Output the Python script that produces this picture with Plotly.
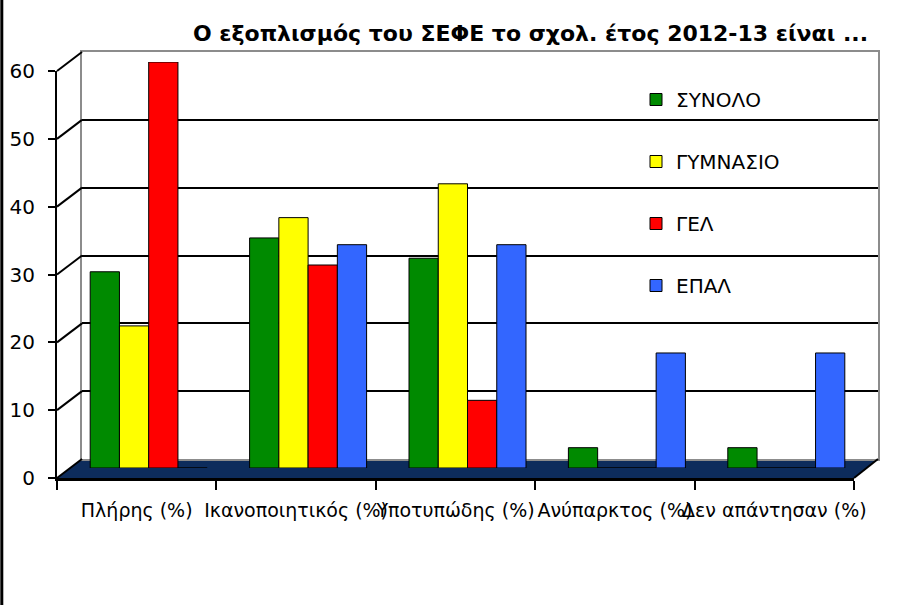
import plotly.graph_objects as go

# data
categories = ["Πλήρης (%)", "Ικανοποιητικός (%)", "Υποτυπώδης (%)", "Ανύπαρκτος (%)", "Δεν απάντησαν (%)"]
series_names = ["ΣΥΝΟΛΟ", "ΓΥΜΝΑΣΙΟ", "ΓΕΛ", "ΕΠΑΛ"]
synolo = [29, 34, 31, 3, 3]
gymnasio = [21, 37, 42, 0, 0]
gel = [60, 30, 10, 0, 0]
epal = [0, 33, 33, 17, 17]
y_ticks = [0, 10, 20, 30, 40, 50, 60]
title_text = "Ο εξοπλισμός του ΣΕΦΕ το σχολ. έτος 2012-13 είναι ..."

colors = ["#008a00", "#ffff00", "#ff0000", "#3366ff"]
FONT = "Comic Sans MS, DejaVu Sans, sans-serif"
W, H = 900, 605


def px(x):
    return x / W


def py(y):
    return 1 - y / H


# front, middle (bars) and back planes of the fake 3d box, in pixels
front = dict(x0=57, x1=854, y0=478, y1=71)
mid = dict(x0=69, x1=866, y0=468, y1=62)
back = dict(x0=82, x1=878, y0=459, y1=52)
ymax = y_ticks[-1]

fig = go.Figure()
# empty traces so that the back wall and the front axes get drawn
for xa, ya in [("x", "y"), ("x2", "y2")]:
    fig.add_trace(go.Scatter(x=[None], y=[None], xaxis=xa, yaxis=ya,
                             showlegend=False, hoverinfo="skip"))
for name, vals, col in zip(series_names, [synolo, gymnasio, gel, epal], colors):
    fig.add_trace(go.Bar(
        x=categories, y=vals, name=name,
        marker=dict(color=col, line=dict(color="black", width=1)),
        xaxis="x3", yaxis="y3", legendgroup=name,
    ))


def y_at(plane, v):
    return plane["y0"] + (plane["y1"] - plane["y0"]) * v / ymax


shapes = []
# floor
shapes.append(dict(
    type="path", xref="paper", yref="paper", layer="below",
    path="M {} {} L {} {} L {} {} L {} {} Z".format(
        px(front["x0"]), py(front["y0"]), px(front["x1"]), py(front["y0"]),
        px(back["x1"]), py(back["y0"]), px(back["x0"]), py(back["y0"])),
    fillcolor="#0d2c5c", line=dict(width=0),
))
# side wall lines
for v in y_ticks:
    shapes.append(dict(
        type="line", xref="paper", yref="paper",
        x0=px(front["x0"]), y0=py(y_at(front, v)),
        x1=px(back["x0"]), y1=py(y_at(back, v)),
        line=dict(color="black", width=2),
    ))
# floor right edge
shapes.append(dict(
    type="line", xref="paper", yref="paper",
    x0=px(front["x1"]), y0=py(front["y0"]), x1=px(back["x1"]), y1=py(back["y0"]),
    line=dict(color="black", width=2),
))
# left border of the picture
shapes.append(dict(type="line", xref="paper", yref="paper", x0=0.002, x1=0.002, y0=0, y1=1,
                   line=dict(color="black", width=3)))

fig.update_layout(
    width=W, height=H,
    margin=dict(l=0, r=0, t=0, b=0, autoexpand=False),
    paper_bgcolor="white", plot_bgcolor="rgba(0,0,0,0)",
    font=dict(family=FONT, size=19, color="black"),
    barmode="group", bargap=0.266, bargroupgap=0,
    title=dict(text=title_text, x=px(868), xanchor="right", y=py(33), yanchor="middle",
               font=dict(family=FONT, size=22, color="black", weight="bold")),
    # back wall
    xaxis=dict(domain=[px(back["x0"]), px(back["x1"])], range=[0, 1], anchor="y", automargin=False,
               showgrid=False, zeroline=False, showticklabels=False, ticks="",
               showline=True, linecolor="#8c8c8c", linewidth=2, mirror=True),
    yaxis=dict(domain=[py(back["y0"]), py(back["y1"])], range=[0, ymax], anchor="x", automargin=False,
               tickvals=y_ticks, showgrid=True, gridcolor="black", gridwidth=2,
               zeroline=False, showticklabels=False, ticks="",
               showline=True, linecolor="#8c8c8c", linewidth=2, mirror=True),
    # front axes with labels
    xaxis2=dict(domain=[px(front["x0"]), px(front["x1"])], range=[0, len(categories)], anchor="y2",
                automargin=False, tickangle=0,
                tickvals=[i + 0.5 for i in range(len(categories))], ticktext=categories,
                ticks="", showgrid=False, zeroline=False,
                showline=True, linecolor="black", linewidth=3,
                ticklabelstandoff=13,
                minor=dict(ticks="outside", tick0=0, dtick=1, ticklen=9,
                           tickcolor="black", tickwidth=1.5, showgrid=False)),
    yaxis2=dict(domain=[py(front["y0"]), py(front["y1"])], range=[0, ymax], anchor="x2",
                automargin=False,
                tickvals=y_ticks, ticks="outside", ticklen=7, tickcolor="black", tickwidth=1.5,
                showgrid=False, zeroline=False, ticklabelstandoff=9,
                showline=True, linecolor="black", linewidth=2,
                tickfont=dict(size=20)),
    # bars
    xaxis3=dict(domain=[px(mid["x0"]), px(mid["x1"])], anchor="y3", visible=False, automargin=False),
    yaxis3=dict(domain=[py(mid["y0"]), py(mid["y1"])], range=[0, ymax], anchor="x3", visible=False,
                automargin=False),
    legend=dict(x=px(636), y=py(80), xanchor="left", yanchor="top",
                bgcolor="rgba(0,0,0,0)", tracegroupgap=33,
                font=dict(family=FONT, size=20)),
    shapes=shapes,
)

fig.write_html("out.html", config={"displayModeBar": False},
               post_script="document.body.style.margin='0';")
